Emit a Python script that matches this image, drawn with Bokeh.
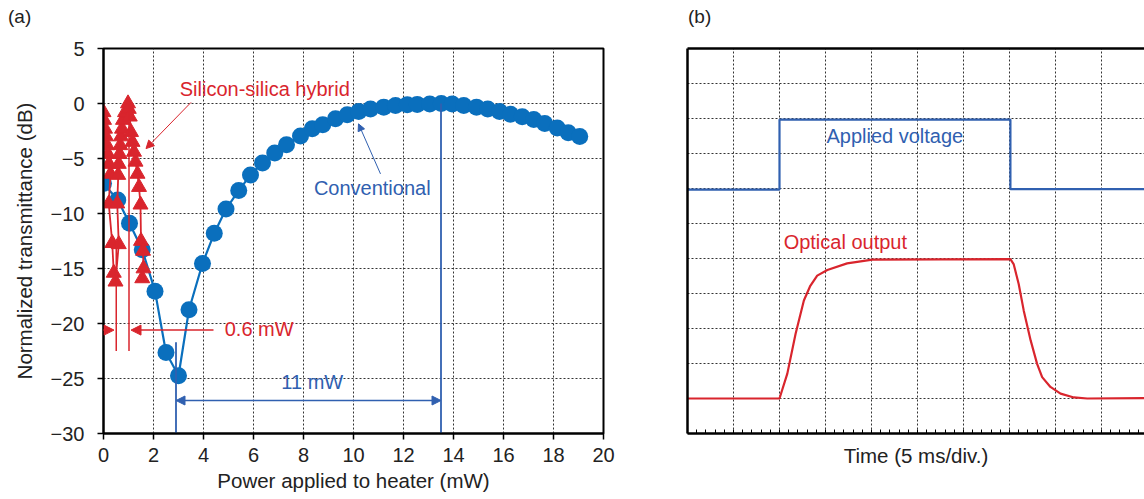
from bokeh.plotting import figure
from bokeh.layouts import row, column
from bokeh.models import FixedTicker, Arrow, NormalHead, Label, LinearAxis, Range1d, Div
from bokeh.embed import file_html
from bokeh.resources import INLINE

# ---------------- data: panel (a) ----------------
conv_power = [0.00, 0.57, 1.04, 1.55, 2.06, 2.50, 3.00, 3.42, 3.96, 4.43, 4.90, 5.41, 5.88,
              6.36, 6.85, 7.32, 7.88, 8.35, 8.77, 9.28, 9.75, 10.21, 10.68, 11.21, 11.68,
              12.15, 12.55, 13.05, 13.51, 13.95, 14.41, 14.92, 15.37, 15.84, 16.28, 16.75,
              17.21, 17.65, 18.15, 18.59, 19.05]
conv_trans = [-7.27, -8.77, -10.89, -13.29, -17.06, -22.64, -24.75, -18.75, -14.55, -11.8,
              -9.6, -7.9, -6.51, -5.4, -4.5, -3.74, -2.96, -2.29, -1.93, -1.39, -1.03, -0.72,
              -0.49, -0.33, -0.18, -0.12, -0.08, -0.04, 0.0, -0.05, -0.18, -0.33, -0.49, -0.72,
              -0.97, -1.21, -1.45, -1.81, -2.23, -2.66, -2.99]

hyb_power = [0.00, 0.02, 0.06, 0.10, 0.14, 0.18, 0.22, 0.28, 0.21, 0.35, 0.41, 0.48, 0.61,
             0.55, 0.59, 0.61, 0.64, 0.67, 0.70, 0.74, 0.78, 0.86, 0.98, 1.01, 1.05, 1.10,
             1.16, 1.22, 1.28, 1.36, 1.42, 1.48, 1.50, 1.58, 1.60, 1.55]
hyb_trans = [-0.8, -1.5, -2.3, -3.0, -3.8, -4.6, -5.5, -6.4, -9.1, -12.7, -15.4, -16.2, -12.8,
             -9.1, -6.5, -5.5, -4.6, -3.8, -3.0, -2.3, -1.5, -0.8, 0.0, -0.5, -1.2, -2.6,
             -3.5, -4.4, -5.3, -6.4, -7.6, -9.2, -12.5, -13.4, -15.0, -15.9]

x_ticks = [0, 2, 4, 6, 8, 10, 12, 14, 16, 18, 20]
y_ticks = [-30, -25, -20, -15, -10, -5, 0, 5]
y_tick_labels = ["\u221230", "\u221225", "\u221220", "\u221215", "\u221210", "\u22125", "0", "5"]

# ---------------- data: panel (b) ----------------
div_lines_x = [1, 2, 3, 4, 5, 6, 7, 8, 9]
div_lines_y = [1, 2, 3, 4, 5, 6, 7, 8, 9, 10]
minor_div = [i / 5 for i in range(0, 51)]

voltage_time = [0, 2.0, 2.0, 7.02, 7.02, 10.0]
voltage_level = [6.97, 6.97, 8.97, 8.97, 6.98, 6.98]

optical_time = [0, 2.0, 2.17, 2.35, 2.53, 2.67, 2.82, 3.04, 3.47, 4.02, 7.02, 7.09, 7.2, 7.31,
                7.46, 7.6, 7.71, 7.89, 8.11, 8.4, 8.69, 10.0]
optical_level = [1.0, 1.0, 1.71, 2.85, 3.8, 4.22, 4.51, 4.67, 4.86, 4.97, 4.98, 4.84, 4.27,
                 3.51, 2.66, 1.99, 1.61, 1.33, 1.14, 1.03, 1.0, 1.01]

RED = "#d9252d"
BLUE = "#0a6fbd"
BLUE2 = "#3060b0"
FONT = "Liberation Sans"
FS = "20px"
TXT = "#222222"
HEAD = 28


def panel_letter(text, width, pad_left):
    return Div(text=text, width=width, height=HEAD, margin=(0, 0, 0, 0),
               styles={"font-family": FONT, "font-size": "19px", "color": TXT,
                       "line-height": "22px", "padding-top": "6px",
                       "padding-left": f"{pad_left}px", "box-sizing": "border-box"})


# ================= panel (a) =================
p = figure(width=640, height=499 - HEAD, x_range=Range1d(0, 20), y_range=Range1d(-30, 5),
           output_backend="svg", toolbar_location=None,
           min_border_left=103, min_border_right=37, min_border_top=46 - HEAD,
           min_border_bottom=66)
p.outline_line_color = "black"
p.outline_line_width = 2
p.xaxis.ticker = FixedTicker(ticks=x_ticks)
p.yaxis.ticker = FixedTicker(ticks=y_ticks)
p.yaxis.major_label_overrides = {t: s for t, s in zip(y_ticks, y_tick_labels)}
p.xaxis.axis_label = "Power applied to heater (mW)"
p.yaxis.axis_label = "Normalized transmittance (dB)"
for ax in (p.xaxis[0], p.yaxis[0]):
    ax.axis_line_width = 2
    ax.major_tick_out = 6
    ax.major_tick_in = 0
    ax.major_tick_line_width = 1.5
    ax.minor_tick_line_color = None
    ax.major_label_text_font = FONT
    ax.major_label_text_font_size = FS
    ax.major_label_text_color = TXT
    ax.axis_label_text_font = FONT
    ax.axis_label_text_font_size = "20.5px"
    ax.axis_label_text_font_style = "normal"
    ax.axis_label_text_color = TXT
p.xaxis.major_label_standoff = 8
p.yaxis.major_label_standoff = 13
p.xaxis.axis_label_standoff = 4
p.yaxis.axis_label_standoff = 12
for g in (p.xgrid[0], p.ygrid[0]):
    g.grid_line_color = "#333333"
    g.grid_line_dash = "2 2"
    g.grid_line_width = 1

p.line(conv_power, conv_trans, line_color=BLUE, line_width=2.2)
p.scatter(conv_power, conv_trans, marker="circle", size=17, fill_color=BLUE, line_color=None)
p.line(hyb_power, hyb_trans, line_color=RED, line_width=1.8)
p.scatter(hyb_power, hyb_trans, marker="triangle", size=15, fill_color=RED, line_color=RED)

# red annotations
p.segment(x0=[0.51, 1.02], y0=[-12.5, 0.0], x1=[0.51, 1.02], y1=[-22.5, -22.5],
          line_color=RED, line_width=1.5)
p.add_layout(Arrow(end=NormalHead(size=10, fill_color=RED, line_color=RED),
                   x_start=-0.8, y_start=-20.6, x_end=0.42, y_end=-20.6,
                   line_color=RED, line_width=1.5))
p.add_layout(Arrow(end=NormalHead(size=10, fill_color=RED, line_color=RED),
                   x_start=4.4, y_start=-20.6, x_end=1.1, y_end=-20.6,
                   line_color=RED, line_width=1.5))
p.add_layout(Arrow(end=NormalHead(size=8, fill_color=RED, line_color=RED),
                   x_start=3.5, y_start=0.1, x_end=1.7, y_end=-4.1,
                   line_color=RED, line_width=1))
p.add_layout(Label(x=4.85, y=-20.5, text="0.6 mW", text_font=FONT, text_font_size=FS,
                   text_color=RED, text_align="left", text_baseline="middle"))
p.add_layout(Label(x=6.45, y=1.35, text="Silicon-silica hybrid", text_font=FONT,
                   text_font_size=FS, text_color=RED, text_align="center",
                   text_baseline="middle"))

# blue annotations
p.segment(x0=[2.9, 13.5], y0=[-21.7, 0.0], x1=[2.9, 13.5], y1=[-30, -30],
          line_color=BLUE2, line_width=1.8)
p.add_layout(Arrow(start=NormalHead(size=9, fill_color=BLUE2, line_color=BLUE2),
                   end=NormalHead(size=9, fill_color=BLUE2, line_color=BLUE2),
                   x_start=2.9, y_start=-27.0, x_end=13.5, y_end=-27.0,
                   line_color=BLUE2, line_width=1.5))
p.add_layout(Arrow(end=NormalHead(size=7, fill_color=BLUE2, line_color=BLUE2),
                   x_start=11.08, y_start=-6.4, x_end=10.2, y_end=-1.85,
                   line_color=BLUE2, line_width=1))
p.add_layout(Label(x=8.35, y=-25.35, text="11 mW", text_font=FONT, text_font_size=FS,
                   text_color=BLUE2, text_align="center", text_baseline="middle"))
p.add_layout(Label(x=10.75, y=-7.65, text="Conventional", text_font=FONT, text_font_size=FS,
                   text_color=BLUE2, text_align="center", text_baseline="middle"))

# ================= panel (b) =================
p2 = figure(width=504, height=499 - HEAD, x_range=Range1d(0, 9.935), y_range=Range1d(0, 11),
            output_backend="svg", toolbar_location=None,
            min_border_left=47, min_border_right=0, min_border_top=48 - HEAD,
            min_border_bottom=66)
p2.outline_line_color = None
p2.xaxis.ticker = FixedTicker(ticks=[], minor_ticks=minor_div)
p2.yaxis.ticker = FixedTicker(ticks=[])
p2.xgrid.ticker = FixedTicker(ticks=div_lines_x)
p2.ygrid.ticker = FixedTicker(ticks=div_lines_y)
p2.xaxis.axis_label = "Time (5 ms/div.)"
p2.xaxis.axis_label_text_font = FONT
p2.xaxis.axis_label_text_font_size = "20.5px"
p2.xaxis.axis_label_text_font_style = "normal"
p2.xaxis.axis_label_text_color = TXT
p2.xaxis.axis_label_standoff = 10
p2.xaxis.axis_line_width = 2.5
p2.xaxis.minor_tick_in = 4
p2.xaxis.minor_tick_out = 0
p2.xaxis.minor_tick_line_width = 1
p2.yaxis.axis_line_width = 2.5
p2.yaxis.minor_tick_line_color = None
top_axis = LinearAxis(ticker=FixedTicker(ticks=[]), axis_line_width=2.5,
                      minor_tick_line_color=None)
p2.add_layout(top_axis, "above")
for g in (p2.xgrid[0], p2.ygrid[0]):
    g.grid_line_color = "#333333"
    g.grid_line_dash = "2 2"
    g.grid_line_width = 1

p2.line(voltage_time, voltage_level, line_color=BLUE2, line_width=2.2)
p2.line(optical_time, optical_level, line_color=RED, line_width=2.2)
p2.add_layout(Label(x=3.02, y=8.5, text="Applied voltage", text_font=FONT, text_font_size=FS,
                    text_color=BLUE2, text_align="left", text_baseline="middle"))
p2.add_layout(Label(x=2.09, y=5.46, text="Optical output", text_font=FONT, text_font_size=FS,
                    text_color=RED, text_align="left", text_baseline="middle"))

header = row(panel_letter("(a)", 640, 8), panel_letter("(b)", 504, 48))
layout = column(header, row(p, p2))
open("out.html", "w").write(file_html(layout, INLINE))
